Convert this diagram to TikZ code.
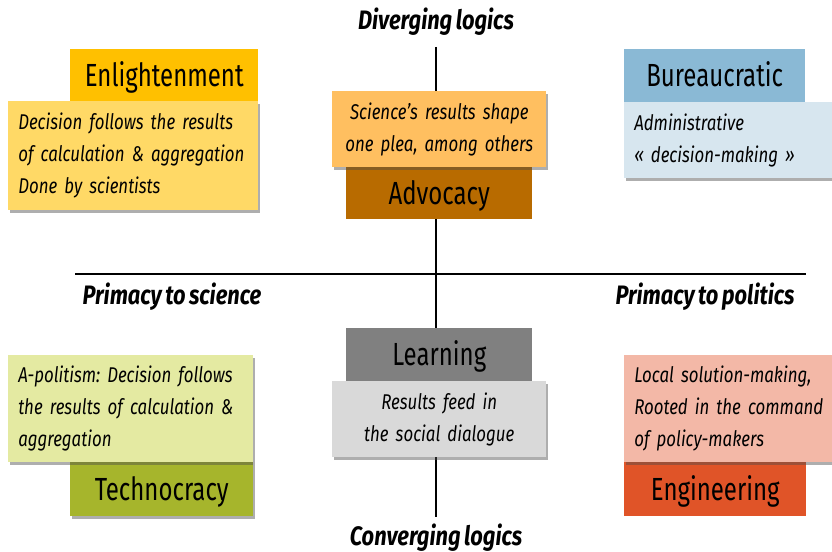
\documentclass[tikz,border=0pt]{standalone}
\usepackage{fontspec}
\setmainfont{Fira Sans}
\newfontfamily\titlefont[FakeStretch=0.75]{Fira Sans}
\newfontfamily\descfont[FakeStretch=0.79, WordSpace=0.6]{Fira Sans}
\newfontfamily\axisfont[FakeStretch=0.82, WordSpace=0.7]{Fira Sans}
\newcommand\descstyle{\descfont\itshape\fontsize{16}{24}\selectfont\frenchspacing}
\newcommand\axisstyle{\axisfont\bfseries\itshape\fontsize{20}{24}\selectfont\frenchspacing}
\usetikzlibrary{positioning, shadows}

\definecolor{enlTitle}{HTML}{FFC000}
\definecolor{enlDesc}{HTML}{FFD966}
\definecolor{advTitle}{HTML}{B86B00}
\definecolor{advDesc}{HTML}{FFBF60}
\definecolor{burTitle}{HTML}{8AB9D5}
\definecolor{burDesc}{HTML}{D7E6EF}
\definecolor{lrnTitle}{HTML}{808080}
\definecolor{lrnDesc}{HTML}{D9D9D9}
\definecolor{tecTitle}{HTML}{A6B52C}
\definecolor{tecDesc}{HTML}{E4EAA2}
\definecolor{engTitle}{HTML}{E05428}
\definecolor{engDesc}{HTML}{F3B8A7}

\tikzset{
    titlebox/.style={anchor=north west, inner sep=0pt, text height=16.5pt, text depth=0pt,
        font=\titlefont\fontsize{24}{28}\selectfont},
    descbox/.style={anchor=north west, inner xsep=7.5pt, inner ysep=0pt, align=left,
        font=\descstyle,
        drop shadow={shadow xshift=1.5pt, shadow yshift=-2pt, opacity=0.45, fill=black!70}},
    axislabel/.style={font=\axisstyle}
}

\begin{document}
\begin{tikzpicture}[x=0.75pt,y=-0.75pt]
    \useasboundingbox (0,0) rectangle (832,552);

    % Axes
    \coordinate (top) at (436,47);
    \coordinate (bottom) at (436,517);
    \coordinate (left) at (75,274);
    \coordinate (right) at (806,274);
    \draw[line width=2.2pt] (top) -- (bottom);
    \draw[line width=2.2pt] (left) -- (right);

    % Axis labels
    \node[axislabel] (diverging) at (436,22) {Diverging logics};
    \node[axislabel] (converging) at (436,538) {Converging logics};
    \node[axislabel] (science) at (172,297) {Primacy to science};
    \node[axislabel] (politics) at (705,297) {Primacy to politics};

    % Titles
    \node[titlebox, fill=enlTitle, minimum width=141pt, minimum height=39.75pt] (enlightenment) at (70,49) {Enlightenment};
    \node[titlebox, fill=advTitle, minimum width=139.5pt, minimum height=39pt] (advocacy) at (346,167) {Advocacy};
    \node[titlebox, fill=burTitle, minimum width=135.75pt, minimum height=39.75pt] (bureaucratic) at (624,49) {Bureaucratic};
    \node[titlebox, fill=lrnTitle, minimum width=139.5pt, minimum height=39.75pt] (learning) at (346,328) {Learning};
    \node[titlebox, fill=tecTitle, minimum width=137.25pt, minimum height=40.5pt,
        drop shadow={shadow xshift=1.5pt, shadow yshift=-2pt, opacity=0.45, fill=black!70}] (technocracy) at (70,462) {Technocracy};
    \node[titlebox, fill=engTitle, minimum width=136.5pt, minimum height=40.5pt] (engineering) at (624,462) {Engineering};

    % Descriptions
    \node[descbox, fill=enlDesc, text width=172.5pt, minimum height=81.75pt] (enlDescr) at (8,101)
        {Decision follows the results\\of calculation \& aggregation\\Done by scientists};
    \node[descbox, fill=advDesc, text width=145.5pt, minimum height=57pt, align=center] (advDescr) at (332,91)
        {Science’s results shape\\one plea, among others};
    \node[descbox, fill=burDesc, text width=148.5pt, minimum height=57pt] (burDescr) at (624,102)
        {Administrative\\« decision-making »};
    \node[descbox, fill=lrnDesc, text width=145.5pt, minimum height=57pt, align=center] (lrnDescr) at (332,381)
        {Results feed in\\the social dialogue};
    \node[descbox, fill=tecDesc, text width=168.75pt, minimum height=80.25pt] (tecDescr) at (8,355)
        {A-politism: Decision follows\\the results of calculation \&\\aggregation};
    \node[descbox, fill=engDesc, text width=148.5pt, minimum height=80.25pt] (engDescr) at (624,355)
        {Local solution-making,\\Rooted in the command\\of policy-makers};
\end{tikzpicture}
\end{document}
